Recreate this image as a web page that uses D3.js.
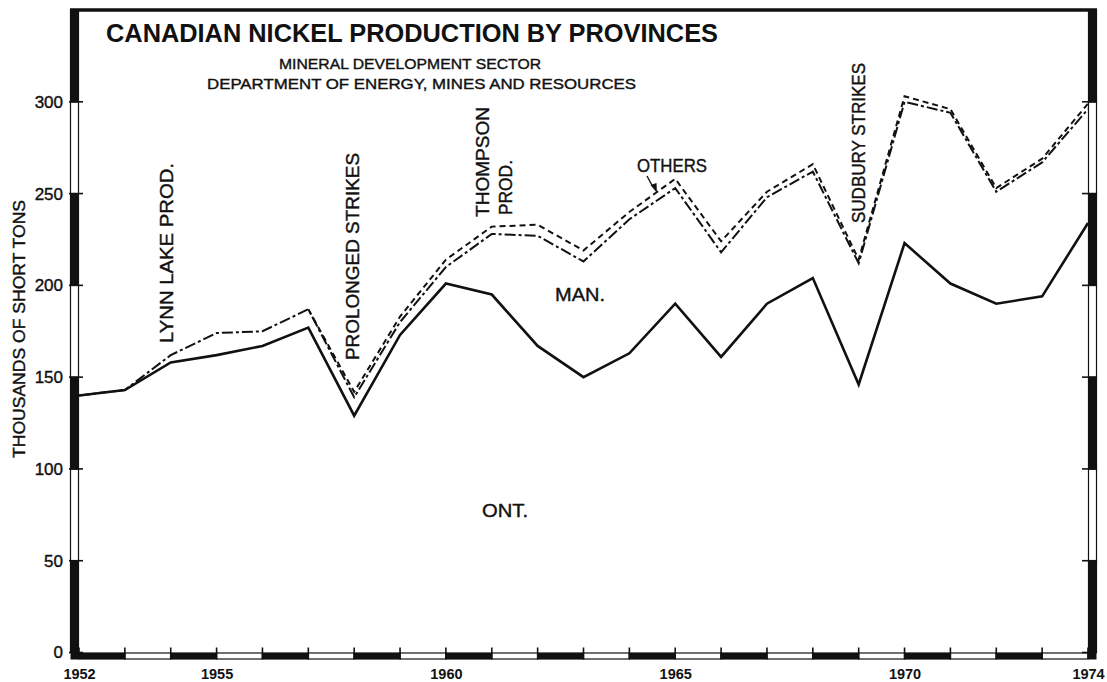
<!DOCTYPE html>
<html>
<head>
<meta charset="utf-8">
<script src="https://cdn.jsdelivr.net/npm/d3@7"></script>
<style>
  html, body { margin: 0; padding: 0; background: #fff; }
  svg { display: block; }
  text { font-family: "Liberation Sans", Arial, sans-serif; fill: #111; }
  .heavy { stroke: #111; stroke-width: 0.4px; }
</style>
</head>
<body>
<svg id="chart" width="1107" height="682"></svg>
<script>
// Canadian nickel production, thousands of short tons
const years    = [1952,1953,1954,1955,1956,1957,1958,1959,1960,1961,1962,1963,1964,1965,1966,1967,1968,1969,1970,1971,1972,1973,1974];
const ontario  = [140,143,158,162,167,177,129,173,201,195,167,150,163,190,161,190,204,146,223,201,190,194,234];
const manitoba = [0,0,4,12,8,10,10,7,9,33,60,63,73,63,57,58,58,66,77,93,61,73,62];
const others   = [null,null,null,null,null,0,3,3,4,4,6,6,4,5,6,3,4,2,3,2,2,2,3];

const yTickValues = [0,50,100,150,200,250,300];
const yBands      = [0,50,100,150,200,250,300,350];
const xTickLabels = [1952,1955,1960,1965,1970,1974];

const svg = d3.select("#chart");

const x = d3.scaleLinear().domain([1952, 1974]).range([79, 1088]);
const y = d3.scaleLinear().domain([0, 350]).range([652.5, 10]);

const BAR = 9;        // width of the striped frame bars
const INK = "#111";

// cumulative levels for the stacked province lines
const ontMan = ontario.map((v, i) => v + manitoba[i]);
const total  = ontMan.map((v, i) => others[i] == null ? null : v + others[i]);

// ---- frame: top rule ----
svg.append("line")
  .attr("x1", x(1952) - BAR).attr("x2", x(1974) + BAR)
  .attr("y1", y(350)).attr("y2", y(350))
  .attr("stroke", INK).attr("stroke-width", 3.5);

// ---- striped vertical bars (left and right) ----
const bands = d3.pairs(yBands);
[x(1952) - BAR, x(1974)].forEach(bx => {
  svg.append("g").selectAll("rect").data(bands).join("rect")
    .attr("x", bx + 0.5)
    .attr("width", BAR - 1)
    .attr("y", d => y(d[1]))
    .attr("height", d => y(d[0]) - y(d[1]))
    .attr("fill", (d, i) => i % 2 === 0 ? INK : "#fff")
    .attr("stroke", INK).attr("stroke-width", 1.2);
});

// ---- striped bottom bar, one segment per year ----
const yearSegs = d3.pairs(years);
svg.append("g").selectAll("rect").data(yearSegs).join("rect")
  .attr("x", d => x(d[0]))
  .attr("width", d => x(d[1]) - x(d[0]))
  .attr("y", y(0) + 0.5)
  .attr("height", 6)
  .attr("fill", (d, i) => i % 2 === 0 ? INK : "#fff")
  .attr("stroke", INK).attr("stroke-width", 1.2);
svg.append("rect")
  .attr("x", x(1952) - BAR + 0.5).attr("width", BAR - 0.5)
  .attr("y", y(0) - 1).attr("height", 8).attr("fill", INK);
svg.append("rect")
  .attr("x", x(1974)).attr("width", BAR - 0.5)
  .attr("y", y(0) - 1).attr("height", 8).attr("fill", INK);

// ---- tick marks ----
const tickG = svg.append("g").attr("stroke", INK).attr("stroke-width", 1.6);
tickG.selectAll(".tl").data(yTickValues).join("line")
  .attr("x1", x(1952) - BAR - 1).attr("x2", x(1952) + 4)
  .attr("y1", d => y(d)).attr("y2", d => y(d));
tickG.selectAll(".tr").data(yTickValues).join("line")
  .attr("x1", x(1974) - 6).attr("x2", x(1974) + BAR)
  .attr("y1", d => y(d)).attr("y2", d => y(d));
tickG.selectAll(".tb").data(years).join("line")
  .attr("x1", d => x(d)).attr("x2", d => x(d))
  .attr("y1", y(0) - 5).attr("y2", y(0) + 6.5);

// ---- axis labels through d3 axes ----
const yAxis = d3.axisLeft(y).tickValues(yTickValues).tickSize(0).tickPadding(16);
svg.append("g").attr("transform", `translate(${x(1952)},0)`).call(yAxis)
  .call(g => g.select(".domain").remove())
  .selectAll("text")
  .attr("class", "heavy")
  .attr("font-size", 17).attr("font-family", "Liberation Sans, Arial, sans-serif").attr("fill", INK);

const xAxis = d3.axisBottom(x).tickValues(xTickLabels).tickFormat(d3.format("d")).tickSize(0).tickPadding(16);
svg.append("g").attr("transform", `translate(0,${y(0)})`).call(xAxis)
  .call(g => g.select(".domain").remove())
  .selectAll("text")
  .attr("font-size", 14.5).attr("font-weight", "bold")
  .attr("font-family", "Liberation Sans, Arial, sans-serif").attr("fill", INK);

// ---- the three cumulative lines ----
const line = d3.line()
  .defined(d => d[1] != null)
  .x(d => x(d[0])).y(d => y(d[1]));

svg.append("path")
  .datum(years.map((yr, i) => [yr, total[i]]))
  .attr("d", line).attr("fill", "none")
  .attr("stroke", INK).attr("stroke-width", 2)
  .attr("stroke-dasharray", "6,4");

svg.append("path")
  .datum(years.map((yr, i) => [yr, ontMan[i]]))
  .attr("d", line).attr("fill", "none")
  .attr("stroke", INK).attr("stroke-width", 2)
  .attr("stroke-dasharray", "11,3,3,3");

svg.append("path")
  .datum(years.map((yr, i) => [yr, ontario[i]]))
  .attr("d", line).attr("fill", "none")
  .attr("stroke", INK).attr("stroke-width", 2.6)
  .attr("stroke-linejoin", "miter");

// ---- titles ----
svg.append("text").attr("x", 106).attr("y", 42)
  .attr("font-size", 26).attr("font-weight", "bold")
  .attr("textLength", 612).attr("lengthAdjust", "spacingAndGlyphs")
  .text("CANADIAN NICKEL PRODUCTION BY PROVINCES");
svg.append("text").attr("x", 279).attr("y", 69)
  .attr("class", "heavy").attr("font-size", 15)
  .attr("textLength", 262).attr("lengthAdjust", "spacingAndGlyphs")
  .text("MINERAL DEVELOPMENT SECTOR");
svg.append("text").attr("x", 207).attr("y", 88.5)
  .attr("class", "heavy").attr("font-size", 15)
  .attr("textLength", 429).attr("lengthAdjust", "spacingAndGlyphs")
  .text("DEPARTMENT OF ENERGY, MINES AND RESOURCES");

// y-axis title
svg.append("text")
  .attr("transform", "translate(25,329) rotate(-90)")
  .attr("class", "heavy")
  .attr("text-anchor", "middle").attr("font-size", 16)
  .attr("textLength", 258).attr("lengthAdjust", "spacingAndGlyphs")
  .text("THOUSANDS OF SHORT TONS");

// ---- vertical event notes ----
const notes = [
  { year: 1954, dx: 2.5,  bottom: 343, len: 180, text: "LYNN LAKE PROD." },
  { year: 1958, dx: 5,    bottom: 360, len: 207, text: "PROLONGED STRIKES" },
  { year: 1961, dx: -3,   bottom: 217, len: 110, text: "THOMPSON" },
  { year: 1961, dx: 20,   bottom: 215, len: 55,  text: "PROD." },
  { year: 1969, dx: 6,    bottom: 223, len: 160, text: "SUDBURY STRIKES" }
];
svg.append("g").selectAll("text").data(notes).join("text")
  .attr("class", "heavy")
  .attr("transform", d => `translate(${x(d.year) + d.dx},${d.bottom}) rotate(-90)`)
  .attr("font-size", 19)
  .attr("textLength", d => d.len).attr("lengthAdjust", "spacingAndGlyphs")
  .text(d => d.text);

// ---- area names ----
const areaNames = [
  { x: 482, y: 517, len: 46, text: "ONT." },
  { x: 555, y: 301, len: 50, text: "MAN." },
  { x: 637, y: 172, len: 70, text: "OTHERS" }
];
svg.append("g").selectAll("text").data(areaNames).join("text")
  .attr("class", "heavy")
  .attr("x", d => d.x).attr("y", d => d.y)
  .attr("font-size", 19)
  .attr("textLength", d => d.len).attr("lengthAdjust", "spacingAndGlyphs")
  .text(d => d.text);

// pointer from OTHERS to the top line
svg.append("line")
  .attr("x1", 647).attr("y1", 176).attr("x2", 653).attr("y2", 187)
  .attr("stroke", INK).attr("stroke-width", 1.4);
svg.append("path")
  .attr("d", "M650.5,185 L657,193 L656.5,183 Z")
  .attr("fill", INK);
</script>
</body>
</html>
